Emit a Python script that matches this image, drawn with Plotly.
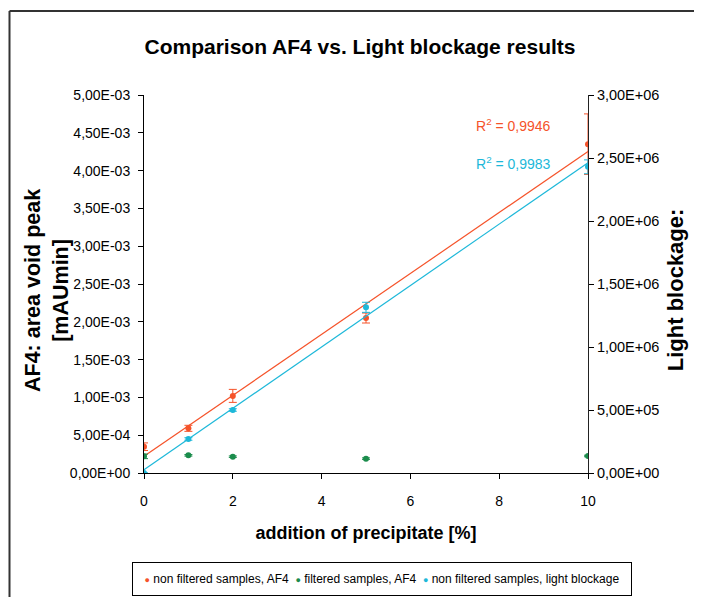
import numpy as np
import plotly.graph_objects as go

# ---- data ----
x_pct = [0, 1, 2, 5, 10]

af4_nonfiltered = [3.48e-4, 5.91e-4, 1.02e-3, 2.05e-3, 4.35e-3]
af4_nonfiltered_err = [0.5e-4, 0.4e-4, 0.86e-4, 0.66e-4, 0.40e-3]

af4_filtered = [2.2e-4, 2.34e-4, 2.16e-4, 1.9e-4, 2.25e-4]
af4_filtered_err = [3e-5, 1e-5, 1e-5, 1e-5, 1e-5]

lb_nonfiltered = [0.0, 2.7e5, 5.0e5, 1.315e6, 2.43e6]
lb_nonfiltered_err = [0.0, 1.0e4, 1.0e4, 4.0e4, 5.5e4]

series_names = ["non filtered samples, AF4", "filtered samples, AF4",
                "non filtered samples, light blockage"]

r2_af4_text = "R<sup>2</sup> = 0,9946"
r2_lb_text = "R<sup>2</sup> = 0,9983"

x_ticks = [0, 2, 4, 6, 8, 10]
y_left_ticks = [0, 5e-4, 1e-3, 1.5e-3, 2e-3, 2.5e-3, 3e-3, 3.5e-3, 4e-3, 4.5e-3, 5e-3]
y_left_labels = ["0,00E+00", "5,00E-04", "1,00E-03", "1,50E-03", "2,00E-03", "2,50E-03",
                 "3,00E-03", "3,50E-03", "4,00E-03", "4,50E-03", "5,00E-03"]
y_right_ticks = [0, 5e5, 1e6, 1.5e6, 2e6, 2.5e6, 3e6]
y_right_labels = ["0,00E+00", "5,00E+05", "1,00E+06", "1,50E+06", "2,00E+06", "2,50E+06", "3,00E+06"]

ORANGE = "#F5532A"
GREEN = "#1B8C4C"
CYAN = "#1DB8D9"
FONT = "Liberation Sans, Arial, sans-serif"

# linear trendlines from data
xs = np.array(x_pct, dtype=float)
xfit = np.array([xs.min(), xs.max()])
p_af4 = np.polyfit(xs, af4_nonfiltered, 1)
p_lb = np.polyfit(xs, lb_nonfiltered, 1)

fig = go.Figure()

fig.add_trace(go.Scatter(
    x=xfit, y=np.polyval(p_af4, xfit), mode="lines", yaxis="y",
    line=dict(color=ORANGE, width=1.2), showlegend=False, hoverinfo="skip"))
fig.add_trace(go.Scatter(
    x=xfit, y=np.polyval(p_lb, xfit), mode="lines", yaxis="y2",
    line=dict(color=CYAN, width=1.2), showlegend=False, hoverinfo="skip"))

fig.add_trace(go.Scatter(
    x=x_pct, y=af4_nonfiltered, mode="markers", name=series_names[0],
    yaxis="y", marker=dict(color=ORANGE, size=6), showlegend=False,
    error_y=dict(type="data", array=af4_nonfiltered_err, color=ORANGE, thickness=1, width=4)))
fig.add_trace(go.Scatter(
    x=x_pct, y=af4_filtered, mode="markers", name=series_names[1],
    yaxis="y", marker=dict(color=GREEN, size=6), showlegend=False,
    error_y=dict(type="data", array=af4_filtered_err, color=GREEN, thickness=1, width=4)))
fig.add_trace(go.Scatter(
    x=x_pct, y=lb_nonfiltered, mode="markers", name=series_names[2],
    yaxis="y2", marker=dict(color=CYAN, size=6), showlegend=False,
    error_y=dict(type="data", array=lb_nonfiltered_err, color=CYAN, thickness=1, width=4)))

# page is rendered with the browser's default 8px body margin
OFF = 8
W, H = 702, 597
L, T = 144 - OFF, 95 - OFF
pw, ph = 444, 378
R, B = W - L - pw, H - T - ph


def px_x(p):
    return (p - OFF - L) / pw


def px_y(p):
    return (T + ph - (p - OFF)) / ph


axis_common = dict(showgrid=False, zeroline=False, automargin=False)

fig.update_layout(
    width=W, height=H,
    margin=dict(l=L, r=R, t=T, b=B, autoexpand=False),
    paper_bgcolor="white", plot_bgcolor="white",
    font=dict(family=FONT, color="black", size=14),
    showlegend=False,
    title=dict(text="<b>Comparison AF4 vs. Light blockage results</b>",
               x=(360 - OFF) / W, xanchor="center", y=1 - (47 - OFF) / H, yanchor="middle",
               font=dict(size=21, family=FONT, color="black")),
    xaxis=dict(range=[0, 10], tickvals=x_ticks, ticktext=[str(v) for v in x_ticks],
               showline=True, linecolor="black", linewidth=1,
               ticks="outside", ticklen=5, tickcolor="black", tickfont=dict(size=14),
               ticklabelstandoff=10,
               title=dict(text="<b>addition of precipitate [%]</b>", font=dict(size=18), standoff=18),
               **axis_common),
    yaxis=dict(range=[0, 5e-3], tickvals=y_left_ticks, ticktext=y_left_labels,
               showline=True, linecolor="black", linewidth=1,
               ticks="outside", ticklen=5, tickcolor="black", tickfont=dict(size=14),
               ticklabelstandoff=5,
               **axis_common),
    yaxis2=dict(range=[0, 3e6], tickvals=y_right_ticks, ticktext=y_right_labels,
                overlaying="y", side="right", anchor="x",
                showline=True, linecolor="#222", linewidth=1,
                ticks="outside", ticklen=5, tickcolor="black", tickfont=dict(size=14.5),
                **axis_common),
    yaxis3=dict(range=[0, 3e6], tickvals=y_right_ticks, overlaying="y", side="right", anchor="x",
                showline=False, showticklabels=False,
                ticks="inside", ticklen=5, tickcolor="black", **axis_common),
)

# y-axis titles
fig.add_annotation(x=px_x(47), y=px_y(291), xref="paper", yref="paper",
                   xanchor="center", yanchor="middle", textangle=-90, showarrow=False,
                   text="<b>AF4: area void peak<br>[mAUmin]</b>",
                   font=dict(size=21.5, family=FONT, color="black"))
# right axis title (runs off the right edge, as in the reference)
fig.add_annotation(x=px_x(690), y=px_y(290), xref="paper", yref="paper",
                   xanchor="center", yanchor="middle", textangle=-90, showarrow=False,
                   text="<b>Light blockage:<br>number of particles / ml</b>",
                   font=dict(size=22, family=FONT, color="black"))

fig.add_annotation(x=8.33, y=4.60e-3, xref="x", yref="y", text=r2_af4_text, showarrow=False,
                   font=dict(size=14, color=ORANGE, family=FONT))
fig.add_annotation(x=8.33, y=4.10e-3, xref="x", yref="y", text=r2_lb_text, showarrow=False,
                   font=dict(size=14, color=CYAN, family=FONT))

# legend box (drawn as one bordered annotation so spacing matches the reference)
bullet = "<span style='color:{c};font-size:9px'>\u25CF</span>"
legend_text = "&nbsp;&nbsp;".join(
    bullet.format(c=c) + " " + n for c, n in zip([ORANGE, GREEN, CYAN], series_names))
fig.add_annotation(x=px_x(382), y=px_y(579), xref="paper", yref="paper",
                   xanchor="center", yanchor="middle", text=legend_text, showarrow=False,
                   font=dict(size=12, family=FONT, color="black"),
                   bordercolor="black", borderwidth=1, borderpad=5, bgcolor="white",
                   width=488, height=22)

# chart-area border (top and left edges; the others run off the picture)
fig.add_shape(type="line", xref="paper", yref="paper",
              x0=px_x(9.5), x1=px_x(760), y0=px_y(11), y1=px_y(11),
              line=dict(color="#333", width=2), layer="below")
fig.add_shape(type="line", xref="paper", yref="paper",
              x0=px_x(9.5), x1=px_x(9.5), y0=px_y(11), y1=px_y(660),
              line=dict(color="#333", width=2), layer="below")

fig.write_html("out.html")
